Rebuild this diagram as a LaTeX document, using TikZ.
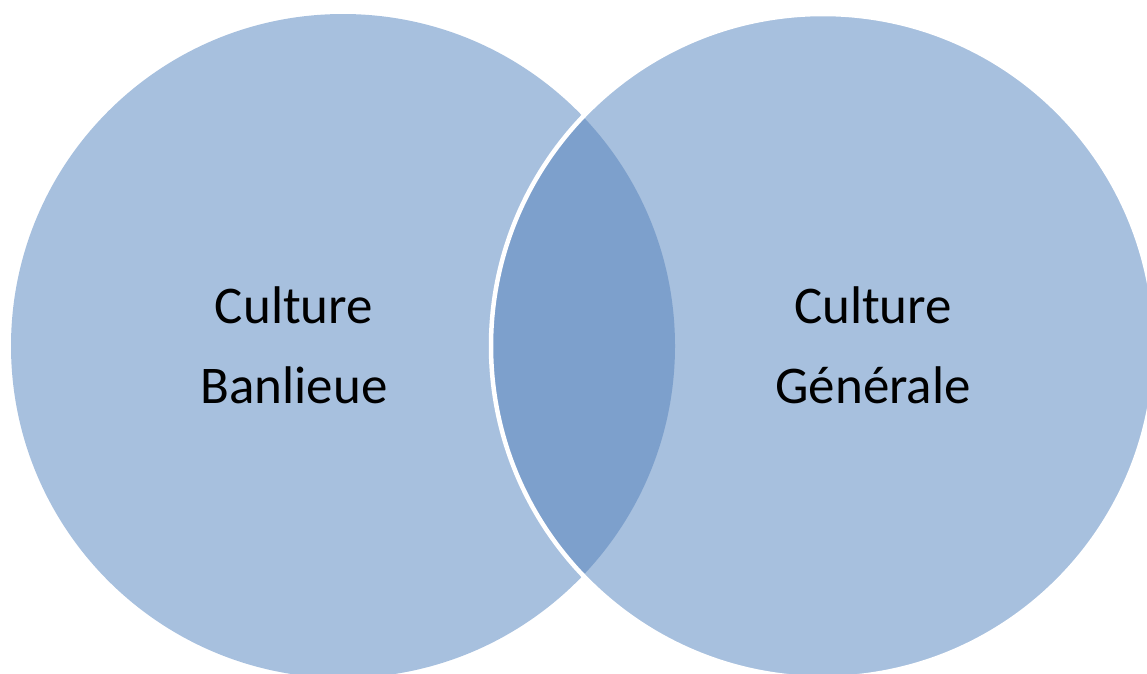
\documentclass[tikz,border=0pt]{standalone}
\usepackage{fontspec}
\setmainfont{Carlito}
\definecolor{setfill}{HTML}{A7C0DE}
\definecolor{overlapfill}{HTML}{7DA0CC}
\begin{document}
\begin{tikzpicture}[x=1pt,y=-1pt,
  setlabel/.style={anchor=base,font=\fontsize{53}{60}\selectfont,text=black,inner sep=0pt}]
\useasboundingbox (0,0) rectangle (1147,673);
\begin{scope}
\clip (0,0) rectangle (1147,673);
% the two sets
\fill[setfill] (343,346) circle[radius=332];
\fill[setfill] (823,346) circle[radius=332];
% their intersection
\begin{scope}
  \clip (343,346) circle[radius=332];
  \fill[overlapfill] (823,346) circle[radius=332];
\end{scope}
% white rim of the right set
\draw[white,line width=4.5] (823,346) circle[radius=332];
\end{scope}
% labels
\node[setlabel] (leftA) at (294,323) {Culture};
\node[setlabel] (leftB) at (294,403) {Banlieue};
\node[setlabel] (rightA) at (873,323) {Culture};
\node[setlabel] (rightB) at (873,403) {Générale};
\end{tikzpicture}
\end{document}
